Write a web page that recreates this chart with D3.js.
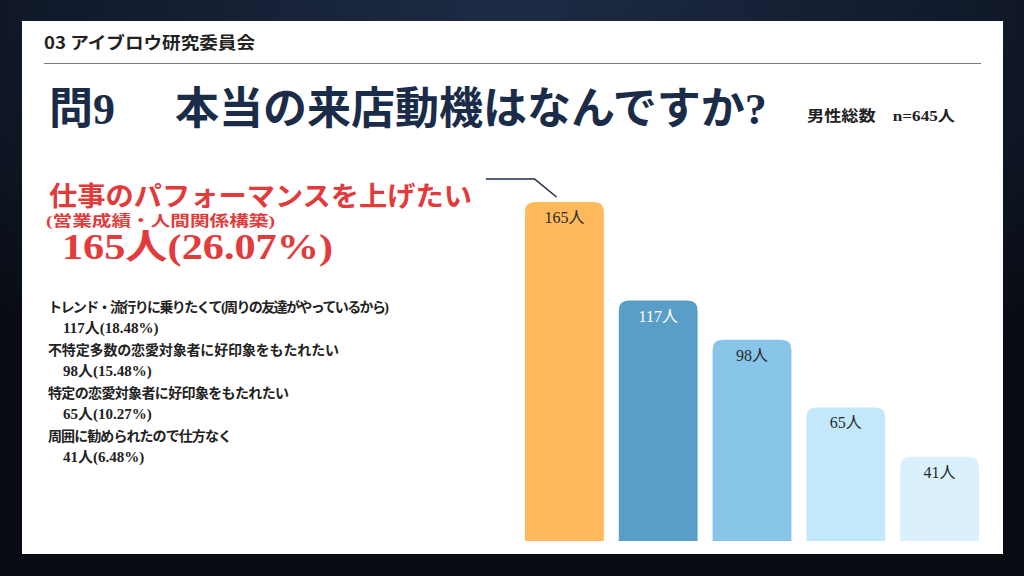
<!DOCTYPE html>
<html>
<head>
<meta charset="utf-8">
<script src="https://cdn.jsdelivr.net/npm/d3@7"></script>
<style>
  html, body { margin: 0; padding: 0; background: #0b0f18; }
  svg { display: block; }
</style>
</head>
<body>
<div id="chart"></div>
<script>
// Data
const categories = [
  "仕事のパフォーマンスを上げたい",
  "トレンド・流行りに乗りたくて(周りの友達がやっているから)",
  "不特定多数の恋愛対象者に好印象をもたれたい",
  "特定の恋愛対象者に好印象をもたれたい",
  "周囲に勧められたので仕方なく"
];
const values = [165, 117, 98, 65, 41];
const percents = ["26.07%", "18.48%", "15.48%", "10.27%", "6.48%"];
const barColors = ["#FDB95A", "#599EC7", "#88C5E8", "#C3E8FC", "#DAF0FC"];
const labelColors = ["#2a2a2a", "#ffffff", "#2a2a2a", "#2a2a2a", "#2a2a2a"];
const total = 645;

const W = 1024, H = 576;
const serif = "'Liberation Serif', 'Noto Sans CJK JP', serif";
const sans = "'Noto Sans CJK JP', 'Noto Sans', sans-serif";

const svg = d3.select("#chart").append("svg")
  .attr("width", W)
  .attr("height", H);

// Background gradient
const defs = svg.append("defs");
const grad = defs.append("radialGradient")
  .attr("id", "bg")
  .attr("cx", "50%").attr("cy", "0%")
  .attr("r", "75%");
grad.append("stop").attr("offset", "0%").attr("stop-color", "#1d2b45");
grad.append("stop").attr("offset", "60%").attr("stop-color", "#111a2b");
grad.append("stop").attr("offset", "100%").attr("stop-color", "#080b12");

svg.append("rect")
  .attr("width", W).attr("height", H)
  .attr("fill", "url(#bg)");

// White panel
svg.append("rect")
  .attr("x", 22).attr("y", 21)
  .attr("width", 981).attr("height", 533)
  .attr("fill", "#ffffff");

// Header
svg.append("text")
  .attr("x", 44).attr("y", 49)
  .attr("font-family", sans)
  .attr("font-weight", 700)
  .attr("font-size", 17)
  .attr("textLength", 211)
  .attr("lengthAdjust", "spacingAndGlyphs")
  .attr("fill", "#222")
  .text("03 アイブロウ研究委員会");

svg.append("line")
  .attr("x1", 44).attr("x2", 981)
  .attr("y1", 63.5).attr("y2", 63.5)
  .attr("stroke", "#7a7a7a")
  .attr("stroke-width", 1.2);

// Title
const title = svg.append("text")
  .attr("y", 124)
  .attr("font-family", serif)
  .attr("font-weight", 700)
  .attr("font-size", 44)
  .attr("fill", "#1b2c48");
title.append("tspan").attr("x", 49).text("問9");
title.append("tspan").attr("x", 175).text("本当の来店動機はなんですか?");

svg.append("text")
  .attr("x", 807).attr("y", 121)
  .attr("font-family", serif)
  .attr("font-weight", 700)
  .attr("font-size", 15)
  .attr("textLength", 148)
  .attr("lengthAdjust", "spacingAndGlyphs")
  .attr("fill", "#222")
  .text("男性総数　n=" + total + "人");

// Scales
const x = d3.scaleBand()
  .domain(categories)
  .range([525, 979])
  .paddingInner(0.16)
  .paddingOuter(0);

const y = d3.scaleLinear()
  .domain([0, 165])
  .range([541, 202]);

// Bars with rounded top corners
function topRounded(x0, y0, w, h, r) {
  return `M${x0},${y0 + h}V${y0 + r}Q${x0},${y0} ${x0 + r},${y0}` +
    `H${x0 + w - r}Q${x0 + w},${y0} ${x0 + w},${y0 + r}V${y0 + h}Z`;
}

const data = categories.map((c, i) => ({ c, v: values[i], p: percents[i], i }));

svg.append("g").selectAll("path")
  .data(data)
  .join("path")
  .attr("d", d => topRounded(x(d.c), y(d.v), x.bandwidth(), y(0) - y(d.v), 10))
  .attr("fill", d => barColors[d.i]);

svg.append("g").selectAll("text")
  .data(data)
  .join("text")
  .attr("x", d => x(d.c) + x.bandwidth() / 2)
  .attr("y", d => y(d.v) + 21)
  .attr("text-anchor", "middle")
  .attr("font-family", serif)
  .attr("font-size", 16)
  .attr("fill", d => labelColors[d.i])
  .text(d => d.v + "人");

// Leader line from headline to top bar
const first = data[0];
const lx = x(first.c) + x.bandwidth() * 0.4;
svg.append("path")
  .attr("d", d3.line()([[486, 179], [lx - 22, 179], [lx, y(first.v) - 5]]))
  .attr("fill", "none")
  .attr("stroke", "#1b2c48")
  .attr("stroke-width", 1.6);

// Headline (top category)
const red = "#e23b3b";
svg.append("text")
  .attr("x", 49).attr("y", 206)
  .attr("font-family", serif)
  .attr("font-weight", 700)
  .attr("font-size", 27)
  .attr("textLength", 423)
  .attr("lengthAdjust", "spacingAndGlyphs")
  .attr("fill", red)
  .text(categories[0]);

svg.append("text")
  .attr("x", 46).attr("y", 226)
  .attr("font-family", serif)
  .attr("font-weight", 700)
  .attr("font-size", 15)
  .attr("textLength", 229)
  .attr("lengthAdjust", "spacingAndGlyphs")
  .attr("fill", red)
  .text("(営業成績・人間関係構築)");

svg.append("text")
  .attr("x", 62).attr("y", 259)
  .attr("font-family", serif)
  .attr("font-weight", 700)
  .attr("font-size", 35)
  .attr("textLength", 271)
  .attr("lengthAdjust", "spacingAndGlyphs")
  .attr("fill", red)
  .text(values[0] + "人(" + percents[0] + ")");

// Other categories list
const listWidths = [341, 291, 241, 184];
const list = svg.append("g")
  .attr("font-family", serif)
  .attr("font-weight", 700)
  .attr("font-size", 14)
  .attr("fill", "#222");

data.slice(1).forEach((d, k) => {
  const base = 312 + k * 43;
  list.append("text")
    .attr("x", 48).attr("y", base)
    .attr("textLength", listWidths[k])
    .text(d.c);
  list.append("text")
    .attr("x", 63).attr("y", base + 21)
    .attr("font-size", 15)
    .text(d.v + "人(" + d.p + ")");
});
</script>
</body>
</html>
